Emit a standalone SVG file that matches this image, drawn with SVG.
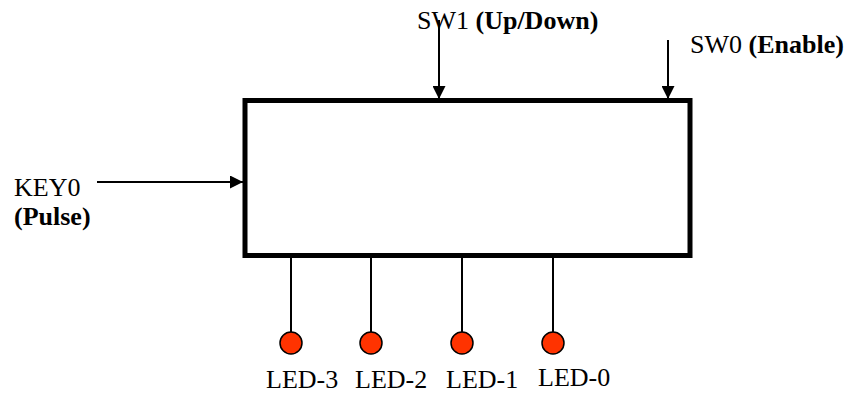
<svg xmlns="http://www.w3.org/2000/svg" width="847" height="394" viewBox="0 0 847 394">
<style>
text{font-family:"Liberation Serif","Times New Roman",serif;font-size:26px;fill:#000}
.b{font-weight:bold}
.w{stroke:#000;stroke-width:2;fill:none}
.led{fill:#FF3300;stroke:#000;stroke-width:1.5}
</style>
<defs>
<marker id="ah" viewBox="0 0 10 10" refX="10" refY="5" markerWidth="13" markerHeight="13" markerUnits="userSpaceOnUse" orient="auto">
<path d="M0,0 L10,5 L0,10 Z" fill="#000"/>
</marker>
</defs>
<rect width="847" height="394" fill="#fff"/>
<g id="counter">
<rect x="245" y="100.5" width="445" height="155" fill="#fff" stroke="#000" stroke-width="5"/>
</g>
<g id="connectors">
<line class="w" x1="439" y1="20" x2="439" y2="99" marker-end="url(#ah)"/>
<line class="w" x1="668" y1="40" x2="668" y2="99" marker-end="url(#ah)"/>
<line class="w" x1="97" y1="182" x2="243" y2="182" marker-end="url(#ah)"/>
<line class="w" x1="291" y1="258" x2="291" y2="332"/>
<line class="w" x1="371" y1="258" x2="371" y2="332"/>
<line class="w" x1="462" y1="258" x2="462" y2="332"/>
<line class="w" x1="553" y1="258" x2="553" y2="332"/>
</g>
<g id="sw1"><text x="417" y="29">SW1 <tspan class="b">(Up/Down)</tspan></text></g>
<g id="sw0"><text x="690" y="53">SW0 <tspan class="b">(Enable)</tspan></text></g>
<g id="key0"><text x="14" y="196">KEY0</text><text class="b" x="14" y="225">(Pulse)</text></g>
<g id="led3"><circle class="led" cx="291" cy="343" r="11"/><text x="266" y="388">LED-3</text></g>
<g id="led2"><circle class="led" cx="371" cy="343" r="11"/><text x="355" y="388">LED-2</text></g>
<g id="led1"><circle class="led" cx="462" cy="343" r="11"/><text x="446" y="388">LED-1</text></g>
<g id="led0"><circle class="led" cx="553" cy="343" r="11"/><text x="538" y="386">LED-0</text></g>
</svg>
